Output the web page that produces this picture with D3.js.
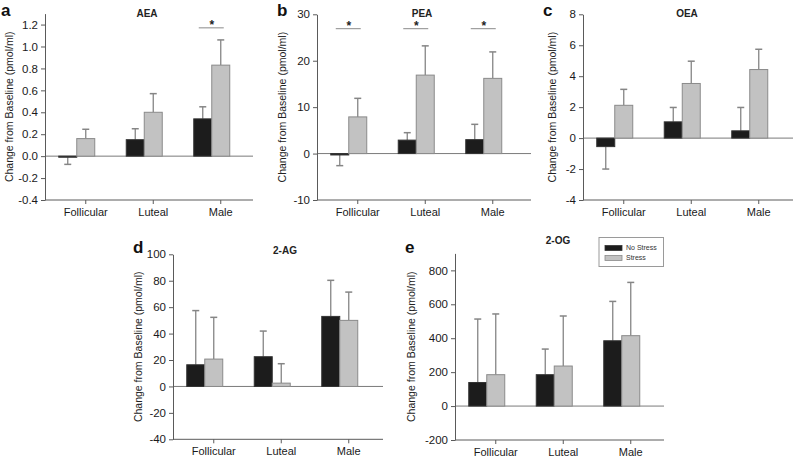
<!DOCTYPE html>
<html>
<head>
<meta charset="utf-8">
<script src="https://cdn.jsdelivr.net/npm/d3@7"></script>
<style>
  body { margin: 0; background: #fff; }
  svg { display: block; font-family: "Liberation Sans", Arial, sans-serif; }
</style>
</head>
<body>
<svg id="svg" width="794" height="458"></svg>
<script>
// ---- data ----
const categories = ["Follicular", "Luteal", "Male"];
const series = ["No Stress", "Stress"];

const aeaNo = [-0.01, 0.15, 0.34], aeaNoErr = [0.065, 0.10, 0.11];
const aeaSt = [0.16, 0.40, 0.83], aeaStErr = [0.085, 0.17, 0.23];
const aeaSig = [false, false, true];

const peaNo = [-0.3, 2.9, 3.0], peaNoErr = [2.3, 1.6, 3.3];
const peaSt = [7.9, 16.9, 16.2], peaStErr = [4.0, 6.3, 5.7];
const peaSig = [true, true, true];

const oeaNo = [-0.55, 1.05, 0.47], oeaNoErr = [1.45, 0.93, 1.51];
const oeaSt = [2.12, 3.53, 4.43], oeaStErr = [1.03, 1.44, 1.31];

const agNo = [16.4, 22.5, 53.0], agNoErr = [41.0, 19.4, 27.3];
const agSt = [20.7, 2.5, 50.0], agStErr = [31.6, 14.7, 21.4];

const ogNo = [139, 185, 385], ogNoErr = [374, 151, 232];
const ogSt = [185, 236, 415], ogStErr = [358, 295, 314];

const aeaTicks = [-0.4, -0.2, 0.0, 0.2, 0.4, 0.6, 0.8, 1.0, 1.2];
const peaTicks = [-10, 0, 10, 20, 30];
const oeaTicks = [-4, -2, 0, 2, 4, 6, 8];
const agTicks = [-40, -20, 0, 20, 40, 60, 80, 100];
const ogTicks = [-200, 0, 200, 400, 600, 800];

const colors = { "No Stress": "#1c1c1c", "Stress": "#c2c2c2" };
const strokes = { "No Stress": "#333", "Stress": "#8a8a8a" };

const panels = [
  { letter: "a", title: "AEA", left: 45, right: 253, top: 13.6, bottom: 200, domain: [-0.4, 1.3],
    ticks: aeaTicks, fmt: ".1f", no: aeaNo, noErr: aeaNoErr, st: aeaSt, stErr: aeaStErr, sig: aeaSig, sigVal: 1.17,
    letterX: 1, letterY: 16, titleX: 147, titleY: 17, yLabelX: 9 },
  { letter: "b", title: "PEA", left: 317, right: 531, top: 14.3, bottom: 200, domain: [-10, 30],
    ticks: peaTicks, fmt: "d", no: peaNo, noErr: peaNoErr, st: peaSt, stErr: peaStErr, sig: peaSig, sigVal: 26.9,
    letterX: 277, letterY: 16, titleX: 422, titleY: 17, yLabelX: 282 },
  { letter: "c", title: "OEA", left: 583, right: 793, top: 14.3, bottom: 200, domain: [-4, 8],
    ticks: oeaTicks, fmt: "d", no: oeaNo, noErr: oeaNoErr, st: oeaSt, stErr: oeaStErr, sig: null,
    letterX: 543, letterY: 16, titleX: 687, titleY: 17, yLabelX: 552 },
  { letter: "d", title: "2-AG", left: 173, right: 383, top: 254.3, bottom: 439.3, domain: [-40, 100],
    ticks: agTicks, fmt: "d", no: agNo, noErr: agNoErr, st: agSt, stErr: agStErr, sig: null,
    letterX: 133, letterY: 253, titleX: 285, titleY: 254, yLabelX: 138 },
  { letter: "e", title: "2-OG", left: 455, right: 664, top: 253.4, bottom: 440, domain: [-200, 900],
    ticks: ogTicks, fmt: "d", no: ogNo, noErr: ogNoErr, st: ogSt, stErr: ogStErr, sig: null,
    letterX: 405, letterY: 253, titleX: 558, titleY: 244, yLabelX: 411, legend: true }
];

const svg = d3.select("#svg");
const axisColor = "#5a5a5a";
const whiskerColor = "#858585";
const barW = 18, tickShift = 9, capHalf = 3.5;

panels.forEach(function (p) {
  const g = svg.append("g");
  const y = d3.scaleLinear().domain(p.domain).range([p.bottom, p.top]);
  // groups: bars centred on the band, the category ticks sit a little to the right (as in the figure)
  const x = d3.scaleBand().domain(categories).range([p.left - 2, p.left + 200.5]);
  const xTick = d3.scaleBand().domain(categories).range([p.left - 2 + tickShift, p.left + 200.5 + tickShift]);
  const xs = d3.scaleBand().domain(series).range([-barW, barW]);
  const fmt = d3.format(p.fmt);

  // zero line
  g.append("line")
    .attr("x1", p.left).attr("x2", p.right)
    .attr("y1", y(0)).attr("y2", y(0))
    .attr("stroke", "#7a7a7a").attr("stroke-width", 1);

  const rows = [];
  categories.forEach(function (c, i) {
    rows.push({ cat: c, s: "No Stress", v: p.no[i], e: p.noErr[i] });
    rows.push({ cat: c, s: "Stress", v: p.st[i], e: p.stErr[i] });
  });

  // whiskers (one-sided, away from zero)
  const cx = d => x(d.cat) + x.bandwidth() / 2 + xs(d.s) + xs.bandwidth() / 2;
  const tip = d => y(d.v < 0 ? d.v - d.e : d.v + d.e);
  g.selectAll("line.whisk").data(rows).enter().append("line")
    .attr("x1", cx).attr("x2", cx)
    .attr("y1", d => y(d.v)).attr("y2", tip)
    .attr("stroke", whiskerColor).attr("stroke-width", 1.3);
  g.selectAll("line.cap").data(rows).enter().append("line")
    .attr("x1", d => cx(d) - capHalf).attr("x2", d => cx(d) + capHalf)
    .attr("y1", tip).attr("y2", tip)
    .attr("stroke", whiskerColor).attr("stroke-width", 1.5);

  // bars
  g.selectAll("rect.bar").data(rows).enter().append("rect")
    .attr("x", d => x(d.cat) + x.bandwidth() / 2 + xs(d.s))
    .attr("width", xs.bandwidth())
    .attr("y", d => Math.min(y(d.v), y(0)))
    .attr("height", d => Math.max(1, Math.abs(y(d.v) - y(0))))
    .attr("fill", d => colors[d.s])
    .attr("stroke", d => strokes[d.s]).attr("stroke-width", 1);

  // significance markers
  if (p.sig) {
    const sigCats = categories.filter((c, i) => p.sig[i]);
    const sg = g.selectAll("g.sig").data(sigCats).enter().append("g");
    sg.append("line")
      .attr("x1", c => x(c) + x.bandwidth() / 2 - barW / 2 - 4)
      .attr("x2", c => x(c) + x.bandwidth() / 2 + barW / 2 + 3)
      .attr("y1", y(p.sigVal)).attr("y2", y(p.sigVal))
      .attr("stroke", "#8a8a8a").attr("stroke-width", 1);
    sg.append("text")
      .attr("x", c => x(c) + x.bandwidth() / 2)
      .attr("y", y(p.sigVal) + 1)
      .attr("text-anchor", "middle")
      .attr("font-size", 12).attr("font-weight", "bold").attr("fill", "#222")
      .text("*");
  }

  // y axis (plain hyphen for negatives, as in the figure)
  const yAxis = g.append("g")
    .attr("transform", "translate(" + p.left + ",0)")
    .call(d3.axisLeft(y).tickValues(p.ticks)
      .tickFormat(d => fmt(d).replace("\u2212", "-"))
      .tickSize(4).tickPadding(3).tickSizeOuter(0));
  yAxis.select(".domain").attr("stroke", axisColor);
  yAxis.selectAll(".tick line").attr("stroke", axisColor);
  yAxis.selectAll("text").attr("font-size", 11.5).attr("fill", "#1a1a1a").attr("font-family", "Liberation Sans, Arial, sans-serif");

  // x axis
  const xAxis = g.append("g")
    .attr("transform", "translate(0," + p.bottom + ")")
    .call(d3.axisBottom(xTick).tickSize(4).tickPadding(4).tickSizeOuter(0));
  xAxis.select(".domain").attr("stroke", axisColor).attr("d", "M" + p.left + ",0H" + p.right);
  xAxis.selectAll(".tick line").attr("stroke", axisColor);
  xAxis.selectAll("text").attr("font-size", 11).attr("fill", "#1a1a1a").attr("font-family", "Liberation Sans, Arial, sans-serif");

  // titles
  g.append("text").attr("x", p.titleX).attr("y", p.titleY)
    .attr("text-anchor", "middle").attr("font-size", 10).attr("font-weight", "bold").attr("fill", "#222")
    .text(p.title);
  g.append("text").attr("x", p.letterX).attr("y", p.letterY)
    .attr("font-size", 17).attr("font-weight", "bold").attr("fill", "#111")
    .text(p.letter);
  g.append("text")
    .attr("transform", "translate(" + p.yLabelX + "," + ((p.top + p.bottom) / 2) + ") rotate(-90)")
    .attr("text-anchor", "middle").attr("dy", "0.35em")
    .attr("font-size", 10.5).attr("fill", "#222")
    .text("Change from Baseline (pmol/ml)");

  // legend
  if (p.legend) {
    const lg = g.append("g").attr("transform", "translate(599,237.5)");
    lg.append("rect").attr("width", 64.5).attr("height", 29)
      .attr("fill", "#fff").attr("stroke", "#9a9a9a").attr("stroke-width", 1);
    const items = lg.selectAll("g.item").data(series).enter().append("g")
      .attr("transform", (d, i) => "translate(6," + (8 + i * 10) + ")");
    items.append("rect").attr("width", 17).attr("height", 5)
      .attr("fill", d => colors[d]).attr("stroke", d => strokes[d]).attr("stroke-width", 0.8);
    items.append("text").attr("x", 21).attr("y", 2.5).attr("dy", "0.35em")
      .attr("font-size", 7).attr("fill", "#333")
      .text(d => d);
  }
});
</script>
</body>
</html>
